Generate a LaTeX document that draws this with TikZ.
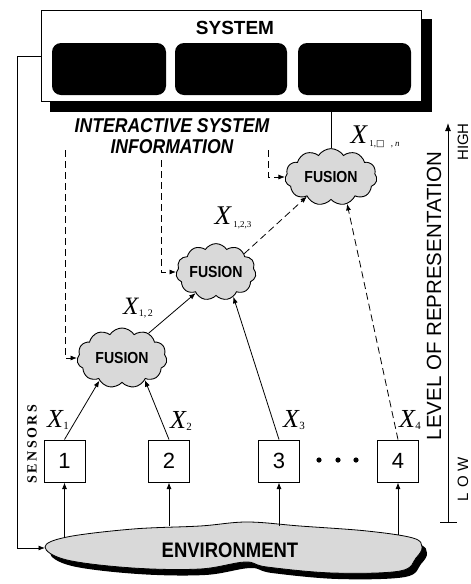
\documentclass[tikz,border=0pt]{standalone}
\usepackage{fontspec}
\setmainfont{Liberation Serif}
\newfontfamily\sfreg{Liberation Sans}
\newfontfamily\sfcond[FakeStretch=0.88]{Liberation Sans}
\newfontfamily\dejavu{DejaVu Sans}
\usetikzlibrary{shapes.symbols,arrows.meta,calc}
\newcommand{\xl}[3]{{\fontsize{#1}{#1}\selectfont\itshape X}\kern0.5pt\raisebox{-0.25em}{\fontsize{#2}{#2}\selectfont #3}}
\tikzset{
  conn/.style={line width=0.8pt,-{Latex[length=6.5pt,width=5pt]}},
  dconn/.style={conn,dash pattern=on 7pt off 4pt},
  fusion/.style={cloud,cloud puffs=11,cloud puff arc=115,aspect=1.6,draw,line width=0.9pt,fill=gray!30,inner sep=0pt,
    font=\sfcond\bfseries\fontsize{16}{16}\selectfont},
  sensor/.style={draw,line width=1pt,fill=white,minimum width=41pt,minimum height=42pt,inner sep=0pt,
    font=\sfreg\fontsize{22}{22}\selectfont},
  panel/.style={fill=black,rounded corners=9pt,minimum width=114pt,minimum height=52pt,inner sep=0pt},
  xlabel/.style={inner sep=0pt},
}
\begin{document}
\begin{tikzpicture}[x=1pt,y=-1pt]
\useasboundingbox (0,0) rectangle (471,584);
% system box
\fill (50,19) rectangle (432,112);
\node[draw,fill=white,line width=1pt,minimum width=380pt,minimum height=91pt,inner sep=0pt,anchor=north west] (sys) at (41,10) {};
\node[font=\sfreg\bfseries\fontsize{19}{19}\selectfont] (systxt) at (235,28) {SYSTEM};
\node[panel] (p1) at (109,69) {};
\node[panel,minimum width=112pt] (p2) at (231,69) {};
\node[panel,minimum width=113pt] (p3) at (354.5,69) {};
% interactive info
\node[align=center,font=\sfcond\bfseries\itshape\fontsize{20}{21}\selectfont] (info) at (172,136) {INTERACTIVE SYSTEM\\INFORMATION};
% environment
\fill[shift={(5,6)}] plot[smooth cycle,tension=0.6] coordinates {(45,547) (67,537) (133,529) (200,526) (247,522) (300,526) (367,531) (413,538) (422,547) (416,558) (400,571) (333,573) (267,567) (245,562) (200,569) (133,568) (67,560)};
\draw[line width=0.8pt,fill=gray!30] plot[smooth cycle,tension=0.6] coordinates {(45,547) (67,537) (133,529) (200,526) (247,522) (300,526) (367,531) (413,538) (422,547) (416,558) (400,571) (333,573) (267,567) (245,562) (200,569) (133,568) (67,560)};
\node[font=\sfcond\bfseries\fontsize{21}{21}\selectfont] (envtxt) at (230,550) {ENVIRONMENT};
\coordinate (envL) at (45,548);
\coordinate (e1) at (64.5,537);
\coordinate (e2) at (169,526);
\coordinate (e3) at (279,526);
\coordinate (e4) at (398,535);
% sensors
\node[sensor] (s1) at (64.5,461) {1};
\node[sensor] (s2) at (169,461) {2};
\node[sensor] (s3) at (279,461) {3};
\node[sensor] (s4) at (398,461) {4};
\fill (319,460) circle (2.6pt);
\fill (338,460) circle (2.6pt);
\fill (356,460) circle (2.6pt);
\foreach \i in {1,2,3,4} \draw[conn] (e\i) -- (s\i.south);
% clouds
\node[fusion,minimum width=90pt,minimum height=60pt] (c1) at (122,358) {FUSION};
\node[fusion,minimum width=80pt,minimum height=55pt] (c2) at (216,272) {FUSION};
\node[fusion,minimum width=92pt,minimum height=52pt] (c3) at (331,177) {FUSION};
% connectors
\draw[conn] (s1.north) -- (c1.225);
\draw[conn] (s2.north) -- (c1.316);
\draw[conn] (s3.north) -- (c2.305);
\draw[dconn] (s4.north) -- (c3.301);
\draw[conn] (c1.43) -- (c2.226);
\draw[dconn] (c2.33) -- (c3.219);
\draw[line width=0.8pt] (c3.north) -- (c3.north |- sys.south);
% dashed info lines
\coordinate (d1) at (65,150);
\coordinate (d2) at (161,160);
\coordinate (d3) at (268,150);
\draw[dconn] (d1) |- (c1.west);
\draw[dconn] (d2) |- (c2.west);
\draw[dconn] (d3) |- (c3.west);
% feedback
\draw[conn] (sys.west) -- ++(-24,0) |- (envL);
% labels
\node[xlabel] (x1) at (58,420) {\xl{26}{11}{1}};
\node[xlabel] (x2) at (181,421) {\xl{26}{11}{2}};
\node[xlabel] (x3) at (294,420) {\xl{26}{11}{3}};
\node[xlabel] (x4) at (410,420) {\xl{26}{11}{4}};
\node[xlabel] (x12) at (138,308) {\xl{25}{10}{1,\,2}};
\node[xlabel] (x123) at (233,218) {\xl{27}{9}{\kern2pt 1,2,3}};
\node[xlabel] (x1n) at (375,137) {\xl{27}{9}{\kern2pt 1,{\dejavu □}\kern6pt,\kern2pt{\itshape n}}};
% sensors label
\node[rotate=90,font=\bfseries\fontsize{14}{14}\selectfont] (senslab) at (32,444) {S\kern2.5pt E\kern2.5pt N\kern2.5pt S\kern2.5pt O\kern2.5pt R\kern2.5pt S};
% level scale
\coordinate (lowend) at (448,522);
\coordinate (highend) at (448,123);
\coordinate (tickL) at (440,522);
\coordinate (tickR) at (457,522);
\draw[line width=1pt,-{Latex[length=8pt,width=6pt]}] (lowend) -- (highend);
\draw[line width=1pt] (tickL) -- (tickR);
\node[rotate=90,font=\sfreg\fontsize{20.5}{20.5}\selectfont] (lvl) at (434,296) {LEVEL OF REPRESENTATION};
\node[rotate=90,font=\sfreg\fontsize{15}{15}\selectfont,inner sep=0pt] (high) at (463,142) {HIGH};
\node[rotate=90,font=\sfreg\fontsize{15}{15}\selectfont,inner sep=0pt] (low) at (463,479) {L\kern5pt O\kern5pt W};
\end{tikzpicture}
\end{document}
